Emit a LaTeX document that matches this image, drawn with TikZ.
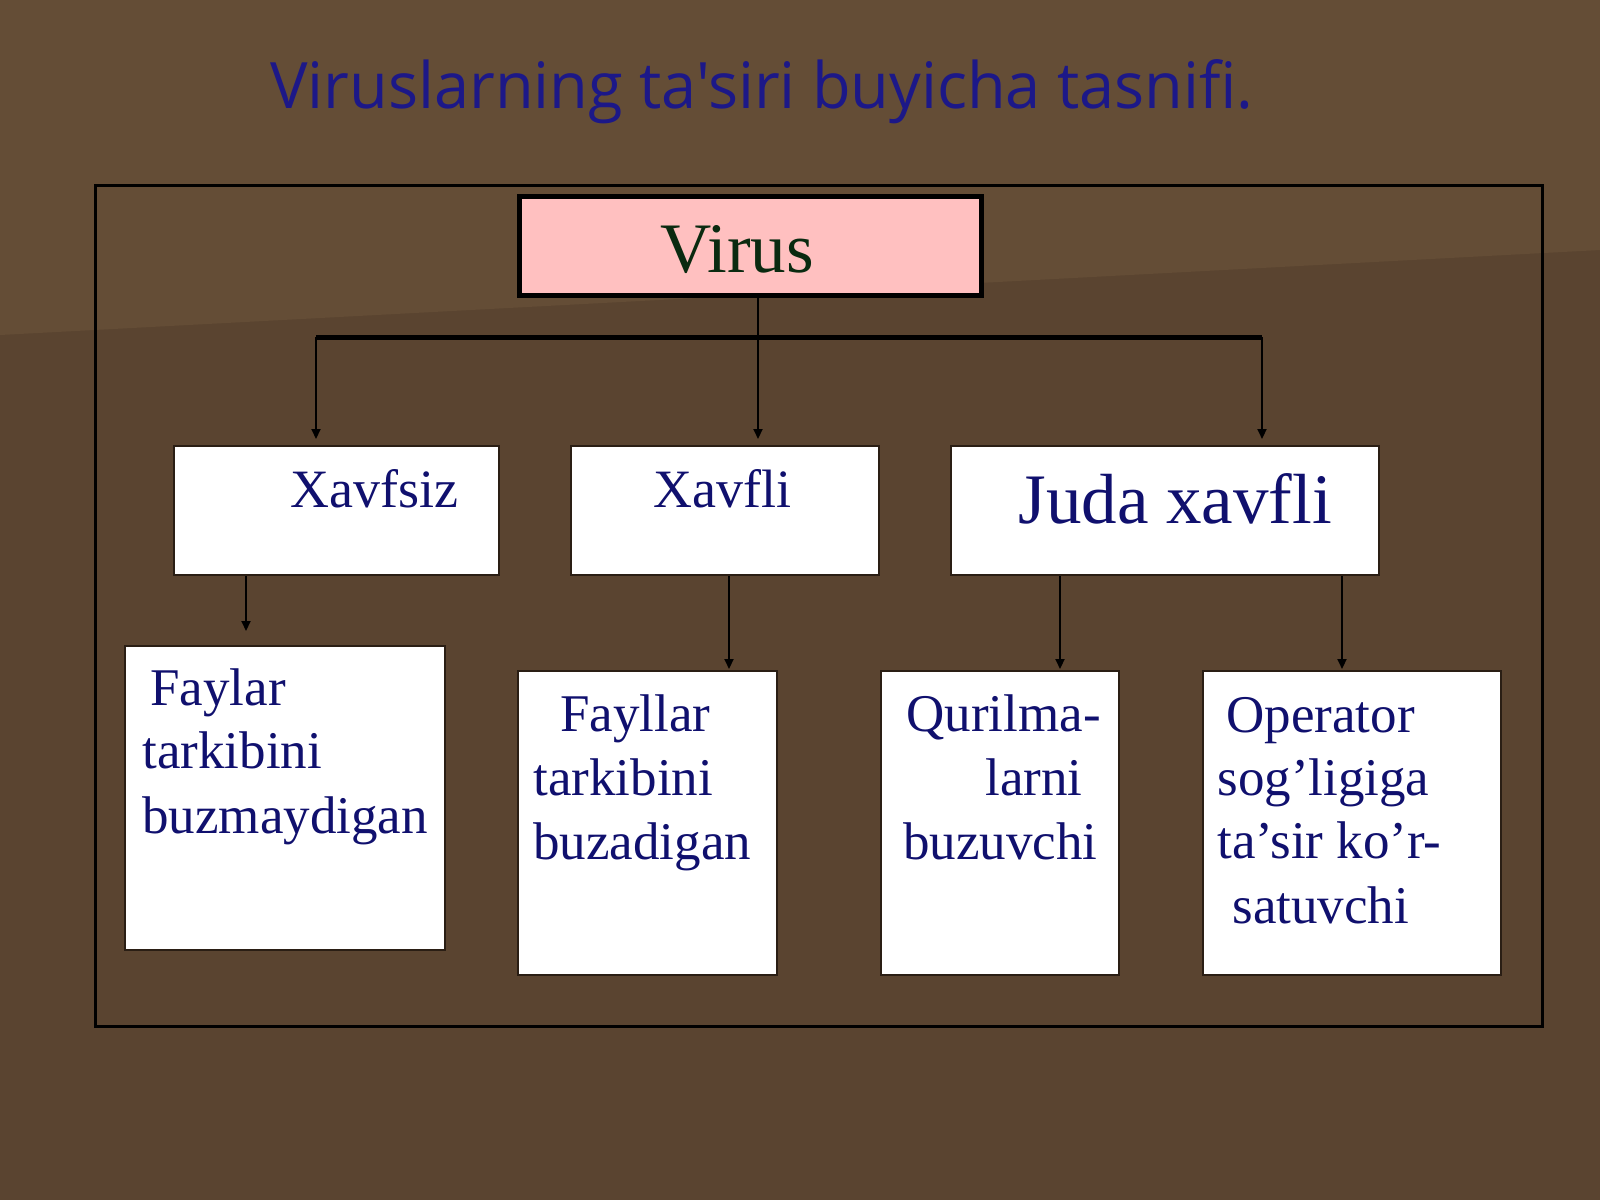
\documentclass[tikz,border=0pt]{standalone}
\usepackage{fontspec}
\setmainfont{Liberation Serif}
\newfontfamily\titlefont{Open Sans}
\usetikzlibrary{arrows.meta}
\definecolor{bgdark}{HTML}{5A4430}
\definecolor{bglight}{HTML}{644D36}
\definecolor{navy}{HTML}{10106E}
\definecolor{titleblue}{HTML}{1C1888}
\definecolor{virusgreen}{HTML}{0A2A10}
\definecolor{pinkfill}{HTML}{FFC0C0}
\definecolor{boxline}{HTML}{2A1E14}
\begin{document}
\begin{tikzpicture}[x=0.5pt,y=-0.5pt,
  wbox/.style={draw=boxline, line width=0.8pt, fill=white, rectangle, inner sep=0pt},
  vbox/.style={draw=black, line width=2.5pt, fill=pinkfill, rectangle, inner sep=0pt},
  txt/.style={anchor=base west, inner sep=0pt, text=navy, font=\fontsize{26.5pt}{32pt}\selectfont},
  midtxt/.style={txt, font=\fontsize{27pt}{32pt}\selectfont},
  bigtxt/.style={txt, font=\fontsize{35.5pt}{40pt}\selectfont},
  conn/.style={draw=black, line width=1pt, -{Triangle[length=5pt,width=4.5pt]}},
  bus/.style={draw=black, line width=2.5pt},
  frame/.style={draw=black, line width=1.75pt}]
\useasboundingbox (0,0) rectangle (1600,1200);
\fill[bgdark] (0,0) rectangle (1600,1200);
\fill[bglight] (0,0) -- (1600,0) -- (1600,250) -- (0,335) -- cycle;

% title
\node[anchor=base west, inner sep=0pt, text=titleblue, font=\titlefont\fontsize{32pt}{38pt}\selectfont] (title) at (270,108) {\scalebox{0.985}[1]{Viruslarning ta'siri buyicha tasnifi.}};

% frame
\draw[frame] (95.5,185.5) rectangle (1542.5,1026.5);

% boxes
\node[vbox, minimum width=231pt, minimum height=49.5pt] (virus) at (750.5,246) {};
\node[wbox, minimum width=162.7pt, minimum height=64.7pt] (xavfsiz) at (336.5,510.5) {};
\node[wbox, minimum width=154.2pt, minimum height=64.7pt] (xavfli) at (725,510.5) {};
\node[wbox, minimum width=214.2pt, minimum height=64.7pt] (juda) at (1165,510.5) {};
\node[wbox, minimum width=160.2pt, minimum height=152.2pt] (faylar) at (285,798) {};
\node[wbox, minimum width=129.7pt, minimum height=152.2pt] (fayllar) at (647.5,823) {};
\node[wbox, minimum width=119.2pt, minimum height=152.2pt] (qurilma) at (1000,823) {};
\node[wbox, minimum width=149.2pt, minimum height=152.2pt] (operator) at (1352,823) {};

% texts
\node[txt, text=virusgreen, font=\fontsize{35.5pt}{40pt}\selectfont] (tvirus) at (660,272) {Virus};
\node[midtxt] (txavfsiz) at (290,507) {Xavfsiz};
\node[midtxt] (txavfli) at (653,507) {Xavfli};
\node[bigtxt] (tjuda) at (1018,523) {Juda xavfli};

\node[txt] (f1) at (150,705) {Faylar};
\node[txt] (f2) at (142,768) {tarkibini};
\node[txt] (f3) at (142,833) {buzmaydigan};

\node[txt] (g1) at (560,731) {Fayllar};
\node[txt] (g2) at (533,795) {tarkibini};
\node[txt] (g3) at (533,859) {buzadigan};

\node[txt] (q1) at (906,731) {Qurilma-};
\node[txt] (q2) at (985,795) {larni};
\node[txt] (q3) at (903,859) {buzuvchi};

\node[txt] (o1) at (1226,732) {Operator};
\node[txt] (o2) at (1217,795) {sog’ligiga};
\node[txt] (o3) at (1217,858) {ta’sir ko’r-};
\node[txt] (o4) at (1232,923) {satuvchi};

% connectors
\coordinate (vx) at (758,0);
\coordinate (busL) at (316,337);
\coordinate (busR) at (1262,337);
\coordinate (a1) at (246,0);
\coordinate (a2) at (729,0);
\coordinate (a3) at (1060,0);
\coordinate (a4) at (1342,0);
\draw[bus] (busL) -- (busR);
\draw[conn, shorten >=3pt] (virus.south -| vx) -- (vx |- xavfli.north);
\draw[conn, shorten >=3pt] (busL) -- (busL |- xavfsiz.north);
\draw[conn, shorten >=3pt] (busR) -- (busR |- juda.north);
\draw[conn, shorten >=7pt] (xavfsiz.south -| a1) -- (a1 |- faylar.north);
\draw[conn, shorten >=0.5pt] (xavfli.south -| a2) -- (a2 |- fayllar.north);
\draw[conn, shorten >=0.5pt] (juda.south -| a3) -- (a3 |- qurilma.north);
\draw[conn, shorten >=0.5pt] (juda.south -| a4) -- (a4 |- operator.north);
\end{tikzpicture}
\end{document}
